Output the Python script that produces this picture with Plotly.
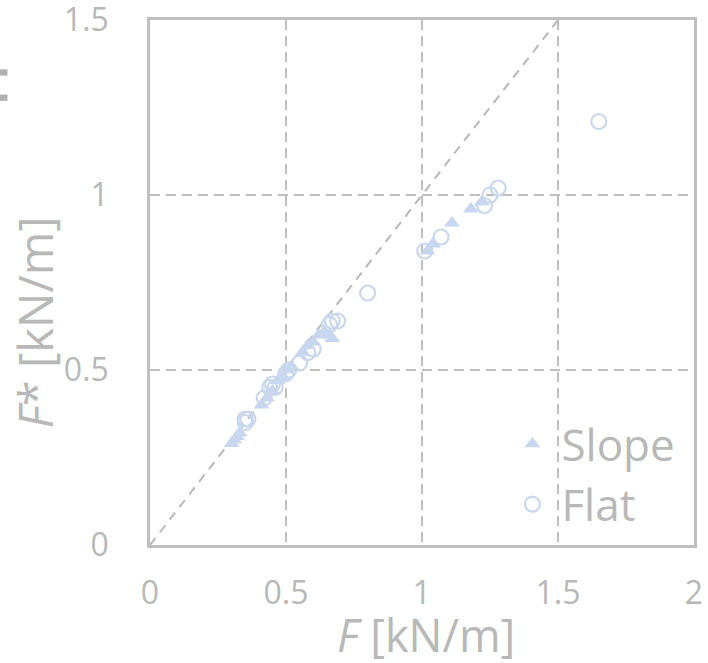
import plotly.graph_objects as go

# Data
slope_x = [0.30, 0.31, 0.32, 0.33, 0.41, 0.43, 0.45, 0.47, 0.49, 0.50, 0.52,
           0.56, 0.58, 0.60, 0.62, 0.64, 0.66, 0.67, 1.02, 1.04, 1.11, 1.18, 1.22]
slope_y = [0.29, 0.30, 0.31, 0.32, 0.40, 0.42, 0.44, 0.47, 0.48, 0.50, 0.51,
           0.55, 0.57, 0.58, 0.60, 0.61, 0.60, 0.59, 0.84, 0.86, 0.92, 0.96, 0.98]
flat_x = [0.35, 0.36, 0.35, 0.42, 0.44, 0.45, 0.46, 0.50, 0.51, 0.55, 0.58,
          0.60, 0.66, 0.67, 0.69, 0.80, 1.01, 1.07, 1.23, 1.25, 1.28, 1.65]
flat_y = [0.36, 0.36, 0.35, 0.42, 0.45, 0.46, 0.45, 0.49, 0.50, 0.52, 0.55,
          0.56, 0.63, 0.64, 0.64, 0.72, 0.84, 0.88, 0.97, 1.00, 1.02, 1.21]
ref_x = [0, 1.5]
ref_y = [0, 1.5]
x_ticks = [0, 0.5, 1, 1.5, 2]
x_tick_labels = ["0", "0.5", "1", "1.5", "2"]
y_ticks = [0, 0.5, 1, 1.5]
y_tick_labels = ["0", "0.5", "1", "1.5"]

GRAY = "#bfbfbf"
TEXT = "#b8b8b8"
BLUE = "#c8d7ee"
FONT = "Open Sans"

fig = go.Figure()
fig.add_trace(go.Scatter(x=ref_x, y=ref_y, mode="lines", showlegend=False,
                         line=dict(color="#b8b8b8", width=2, dash="9px,7px"),
                         hoverinfo="skip"))
fig.add_trace(go.Scatter(x=slope_x, y=slope_y, mode="markers", name="Slope",
                         marker=dict(symbol="triangle-up", size=14, color=BLUE,
                                     line=dict(width=0))))
fig.add_trace(go.Scatter(x=flat_x, y=flat_y, mode="markers", name="Flat",
                         marker=dict(symbol="circle-open", size=15, color=BLUE,
                                     line=dict(width=2.2, color=BLUE))))

axis_common = dict(showline=True, mirror=True, linecolor=GRAY, linewidth=2.5,
                   showgrid=True, gridcolor=GRAY, gridwidth=2, griddash="10px,6px",
                   zeroline=False, ticks="", ticklabeloverflow="allow",
                   automargin=False,
                   tickfont=dict(family=FONT, size=32, color=TEXT))

fig.update_xaxes(range=[0, 2], tickvals=x_ticks, ticktext=x_tick_labels,
                 ticklabelstandoff=18, **axis_common)
fig.update_yaxes(range=[0, 1.5], tickvals=y_ticks, ticktext=y_tick_labels,
                 ticklabelstandoff=32, **axis_common)

fig.update_layout(
    width=708, height=663,
    margin=dict(l=150, r=14, t=20, b=118),
    plot_bgcolor="white", paper_bgcolor="white",
    legend=dict(x=0.975, y=0.01, xanchor="right", yanchor="bottom",
                bgcolor="rgba(0,0,0,0)", itemsizing="trace", itemwidth=48,
                font=dict(family=FONT, size=44, color=TEXT),
                tracegroupgap=0),
    annotations=[
        dict(text="<i>F</i>* [kN/m]", xref="paper", yref="paper",
             x=-0.212, y=0.423, xanchor="center", yanchor="middle",
             textangle=-90, showarrow=False,
             font=dict(family=FONT, size=47, color=TEXT)),
        dict(text="<i>F</i> [kN/m]", xref="paper", yref="paper",
             x=0.507, y=-0.17, xanchor="center", yanchor="middle",
             showarrow=False,
             font=dict(family=FONT, size=45, color=TEXT)),
    ],
    shapes=[
        dict(type="rect", xref="paper", yref="paper", x0=-0.276, x1=-0.262,
             y0=0.894, y1=0.906, fillcolor="#b0b0b0", line=dict(width=0)),
        dict(type="rect", xref="paper", yref="paper", x0=-0.276, x1=-0.262,
             y0=0.846, y1=0.858, fillcolor="#b0b0b0", line=dict(width=0)),
    ],
)

fig.write_html("out.html")
